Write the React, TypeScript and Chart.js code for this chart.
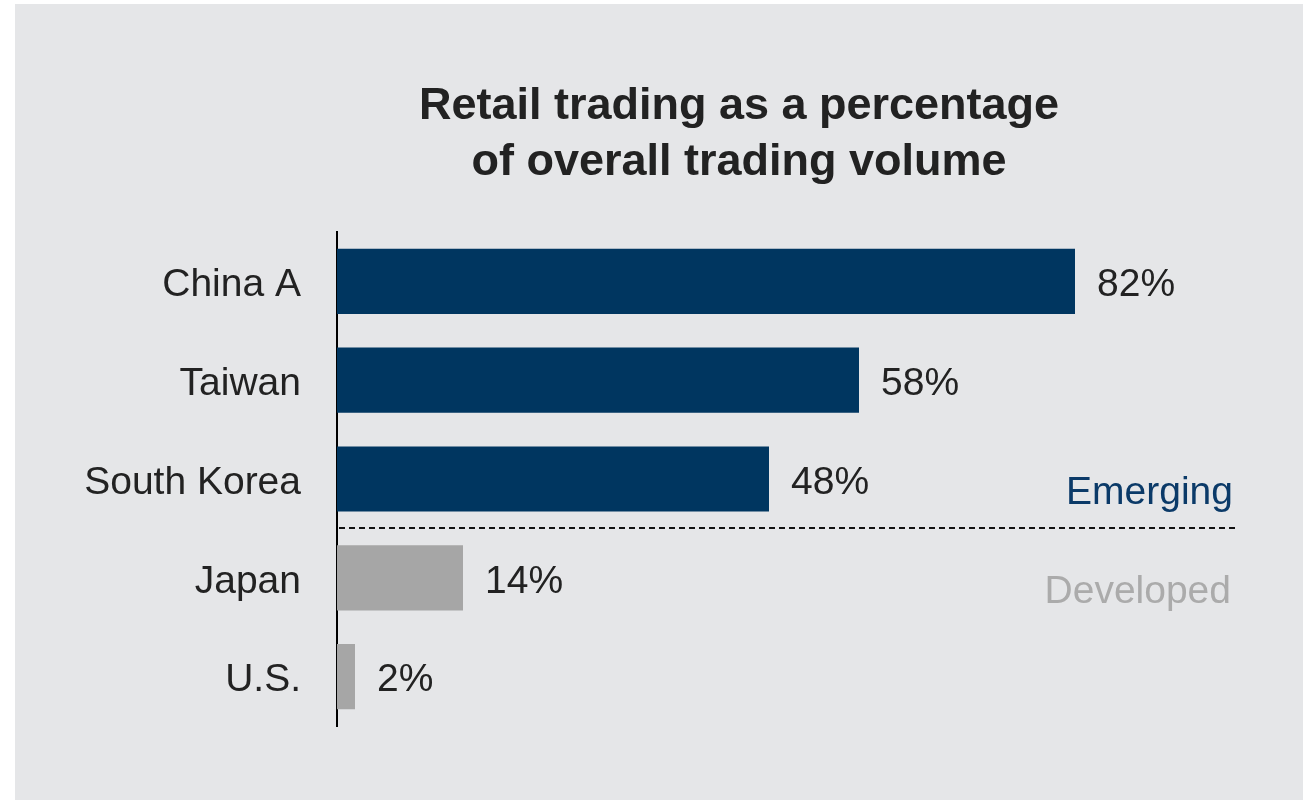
import React, { useEffect, useRef } from "react";
import { Chart, registerables } from "chart.js";

Chart.register(...registerables);

const categories = ["China A", "Taiwan", "South Korea", "Japan", "U.S."];
const values = [82, 58, 48, 14, 2];
const groups = ["Emerging", "Emerging", "Emerging", "Developed", "Developed"];
const titleLines = ["Retail trading as a percentage", "of overall trading volume"];
const groupLabels = ["Emerging", "Developed"];

const NAVY = "#003660";
const GRAY = "#a6a6a6";
const TEXT = "#222222";
const FONT = "'Liberation Sans', Arial, sans-serif";

export default function App() {
  const ref = useRef<HTMLCanvasElement | null>(null);

  useEffect(() => {
    const canvas = ref.current;
    if (!canvas) return;

    const overlay = {
      id: "overlay",
      afterDraw(chart: any) {
        const ctx = chart.ctx;
        const x = chart.scales.x;
        const y = chart.scales.y;
        const area = chart.chartArea;
        ctx.save();
        // title
        ctx.fillStyle = TEXT;
        ctx.font = `bold 45px ${FONT}`;
        ctx.textAlign = "center";
        ctx.textBaseline = "alphabetic";
        ctx.fillText(titleLines[0], 724, 115);
        ctx.fillText(titleLines[1], 724, 171);

        // value labels
        ctx.font = `39px ${FONT}`;
        ctx.textAlign = "left";
        ctx.textBaseline = "middle";
        const meta = chart.getDatasetMeta(0);
        meta.data.forEach((bar: any, i: number) => {
          ctx.fillStyle = TEXT;
          ctx.fillText(values[i] + "%", bar.x + 22, bar.y + 4);
        });

        // divider
        const lastEmerging = groups.lastIndexOf("Emerging");
        const yDiv = Math.round(y.getPixelForValue(lastEmerging + 0.5));
        ctx.strokeStyle = "#111";
        ctx.lineWidth = 2;
        ctx.setLineDash([6, 4]);
        ctx.beginPath();
        ctx.moveTo(area.left + 2, yDiv);
        ctx.lineTo(x.getPixelForValue(100) + 1, yDiv);
        ctx.stroke();
        ctx.setLineDash([]);

        // group labels
        ctx.textAlign = "right";
        ctx.textBaseline = "alphabetic";
        ctx.fillStyle = "#0b3a68";
        ctx.fillText(groupLabels[0], 1218, y.getPixelForValue(lastEmerging) + 25);
        ctx.fillStyle = "#ababab";
        ctx.fillText(groupLabels[1], 1216, y.getPixelForValue(lastEmerging + 1) + 25);
        ctx.restore();
      },
    };

    const chart = new Chart(canvas, {
      type: "bar",
      data: {
        labels: categories,
        datasets: [
          {
            data: values,
            backgroundColor: groups.map((g) => (g === "Emerging" ? NAVY : GRAY)),
            borderWidth: 0,
            barPercentage: 0.66,
            categoryPercentage: 1,
          },
        ],
      },
      options: {
        indexAxis: "y",
        responsive: false,
        animation: false,
        layout: { padding: { left: 0, right: 66, top: 228, bottom: 74 } },
        plugins: {
          legend: { display: false },
          title: { display: false },
          tooltip: { enabled: false },
        },
        scales: {
          x: {
            display: false,
            min: 0,
            max: 100,
          },
          y: {
            grid: { display: false, drawTicks: false },
            border: { display: true, color: "#000", width: 2 },
            ticks: {
              color: TEXT,
              font: { family: FONT, size: 39 },
              padding: 36,
              labelOffset: 4,
            },
            afterFit: (scale: any) => {
              scale.width = 322;
            },
          },
        },
      },
      plugins: [overlay],
    });

    return () => chart.destroy();
  }, []);

  return (
    <div style={{ position: "fixed", left: 0, top: 0, width: 1303, height: 800, background: "#fff" }}>
      <div style={{ position: "absolute", left: 15, top: 4, width: 1288, height: 796, background: "#e5e6e8" }}>
        <canvas ref={ref} width={1288} height={796} style={{ display: "block" }} />
      </div>
    </div>
  );
}
